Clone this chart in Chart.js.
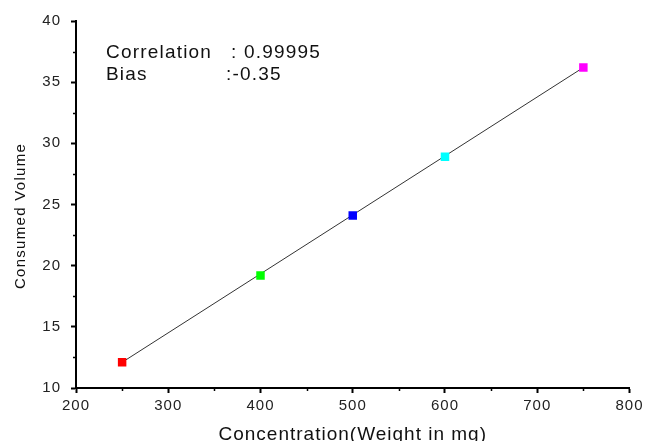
<!DOCTYPE html>
<html>
<head>
<meta charset="utf-8">
<script src="https://cdn.jsdelivr.net/npm/chart.js@4/dist/chart.umd.min.js"></script>
<style>
  html, body { margin: 0; padding: 0; background: #fff; }
  #wrap { width: 646px; height: 441px; }
</style>
</head>
<body>
<div id="wrap"><canvas id="calChart" width="646" height="441"></canvas></div>
<script>
// measured points
const concentration = [250, 400, 500, 600, 750];
const consumedVolume = [12.1, 19.2, 24.1, 28.9, 36.2];
const pointColors = ['#ff0000', '#00ff00', '#0000ff', '#00ffff', '#ff00ff'];

// regression line end points
const fitX = [250, 750];
const fitY = [12.1, 36.2];

const statLabels = ['Correlation', 'Bias'];
const statValues = [': 0.99995', ':-0.35'];

const xTicks = [200, 300, 400, 500, 600, 700, 800];
const yTicks = [10, 15, 20, 25, 30, 35, 40];

const yTitle = 'Consumed Volume';

const textColor = '#222';
const fontFamily = '"Liberation Sans", Arial, sans-serif';

// the original text is drawn wide, so spread the letters a bit
const wideText = {
    id: 'wideText',
    beforeDraw(chart) {
        chart.ctx.letterSpacing = '1px';
    }
};

// small outward ticks half way between labelled ones
const minorTicks = {
    id: 'minorTicks',
    afterDraw(chart) {
        const { ctx, scales: { x, y } } = chart;
        ctx.save();
        ctx.strokeStyle = '#000';
        ctx.lineWidth = 1.5;
        ctx.beginPath();
        for (let i = 0; i < xTicks.length - 1; i++) {
            const px = Math.round(x.getPixelForValue((xTicks[i] + xTicks[i + 1]) / 2)) + 0.5;
            ctx.moveTo(px, y.bottom);
            ctx.lineTo(px, y.bottom + 3);
        }
        for (let i = 0; i < yTicks.length - 1; i++) {
            const py = Math.round(y.getPixelForValue((yTicks[i] + yTicks[i + 1]) / 2)) + 0.5;
            ctx.moveTo(x.left, py);
            ctx.lineTo(x.left - 3, py);
        }
        ctx.stroke();
        ctx.restore();
    }
};

// correlation / bias text block and the y title (sits a bit low, as in the original)
const extraText = {
    id: 'extraText',
    afterDraw(chart) {
        const ctx = chart.ctx;
        ctx.save();
        ctx.fillStyle = '#111';
        ctx.font = '19px ' + fontFamily;
        ctx.letterSpacing = '1.2px';
        ctx.textBaseline = 'alphabetic';
        const rows = [58, 80];
        const valueX = [231, 226];
        statLabels.forEach((lbl, i) => {
            ctx.fillText(lbl, 106, rows[i]);
            ctx.fillText(statValues[i], valueX[i], rows[i]);
        });

        ctx.font = '15px ' + fontFamily;
        ctx.letterSpacing = '1.3px';
        ctx.textAlign = 'center';
        ctx.textBaseline = 'middle';
        ctx.translate(21, 216);
        ctx.rotate(-Math.PI / 2);
        ctx.fillText(yTitle, 0, 0);
        ctx.restore();
    }
};

const ctx = document.getElementById('calChart').getContext('2d');
new Chart(ctx, {
    type: 'scatter',
    data: {
        datasets: [
            {
                label: 'Fit',
                type: 'line',
                data: fitX.map((v, i) => ({ x: v, y: fitY[i] })),
                borderColor: '#333',
                borderWidth: 1,
                pointRadius: 0,
                fill: false,
                order: 2
            },
            {
                label: 'Data',
                data: concentration.map((v, i) => ({ x: v, y: consumedVolume[i] })),
                pointStyle: 'rect',
                pointRadius: 6,
                pointHoverRadius: 6,
                backgroundColor: pointColors,
                borderColor: pointColors,
                borderWidth: 0,
                order: 1
            }
        ]
    },
    options: {
        responsive: false,
        animation: false,
        events: [],
        layout: { padding: { left: 14, right: 14, top: 21, bottom: -5 } },
        plugins: {
            legend: { display: false },
            tooltip: { enabled: false }
        },
        scales: {
            x: {
                type: 'linear',
                min: 200,
                max: 800,
                afterBuildTicks: (s) => { s.ticks = xTicks.map(v => ({ value: v })); },
                afterFit: (s) => { s.height = 58; },
                border: { color: '#000', width: 2 },
                grid: { drawOnChartArea: false, tickLength: 5, tickColor: '#000', tickWidth: 2 },
                ticks: {
                    color: textColor,
                    padding: 4,
                    font: { family: fontFamily, size: 15 }
                },
                title: {
                    display: true,
                    text: 'Concentration(Weight in mg)',
                    color: '#111',
                    font: { family: fontFamily, size: 19 },
                    padding: 0
                }
            },
            y: {
                type: 'linear',
                min: 10,
                max: 40,
                afterBuildTicks: (s) => { s.ticks = yTicks.map(v => ({ value: v })); },
                afterFit: (s) => { s.width = 62; },
                border: { color: '#000', width: 2 },
                grid: { drawOnChartArea: false, tickLength: 5, tickColor: '#000', tickWidth: 2 },
                ticks: {
                    color: textColor,
                    padding: 10,
                    font: { family: fontFamily, size: 15 }
                }
            }
        }
    },
    plugins: [wideText, minorTicks, extraText]
});
</script>
</body>
</html>
